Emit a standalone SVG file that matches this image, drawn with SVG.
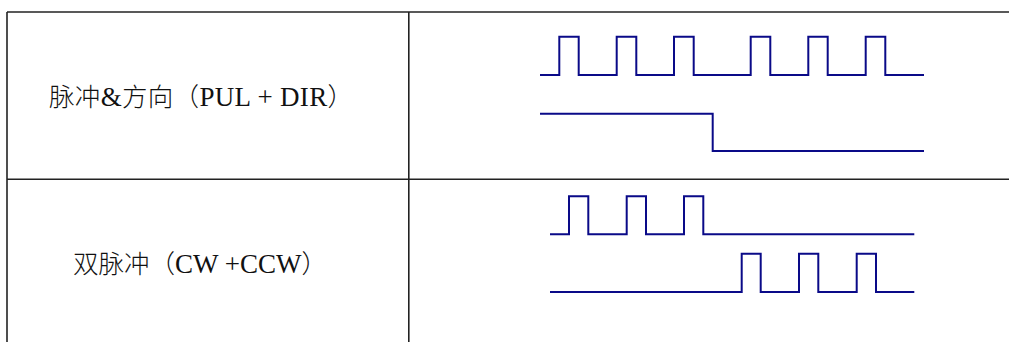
<svg xmlns="http://www.w3.org/2000/svg" width="1009" height="342" viewBox="0 0 1009 342">
<style>
.grid{stroke:#222;stroke-width:1.6;fill:none}
.wave{stroke:#0a0a88;stroke-width:2;fill:none;stroke-linejoin:miter}
.lbl{font-family:'Liberation Serif','Times New Roman','Noto Sans CJK SC',serif;font-size:27px;fill:#111}
.cjk{font-family:'Noto Sans CJK SC',sans-serif;font-size:25.5px;font-weight:300}
</style>
<rect x="0" y="0" width="1009" height="342" fill="#fff"/>
<g id="table">
<line class="grid" x1="7" y1="12" x2="1009" y2="12"/>
<line class="grid" x1="7" y1="179.3" x2="1009" y2="179.3"/>
<line class="grid" x1="7" y1="12" x2="7" y2="342"/>
<line class="grid" x1="408.8" y1="12" x2="408.8" y2="342"/>
</g>
<g id="label-pul-dir">
<text class="lbl" x="49" y="106" textLength="304" lengthAdjust="spacing"><tspan class="cjk">脉冲</tspan>&amp;<tspan class="cjk">方向（</tspan>PUL + DIR<tspan class="cjk">）</tspan></text>
</g>
<g id="label-cw-ccw">
<text class="lbl" x="73" y="273" textLength="254" lengthAdjust="spacing"><tspan class="cjk">双脉冲（</tspan>CW +CCW<tspan class="cjk">）</tspan></text>
</g>
<g id="wave-pul">
<path class="wave" d="M540,75 H559.3 V36.7 H578.7 V75 H616.7 V36.7 H636.3 V75 H674 V36.7 H693.7 V75 H750.7 V36.7 H770.3 V75 H808.3 V36.7 H827.7 V75 H865.7 V36.7 H885.3 V75 H924"/>
</g>
<g id="wave-dir">
<path class="wave" d="M540,113.7 H712.7 V151 H924"/>
</g>
<g id="wave-cw">
<path class="wave" d="M550,234.3 H569 V196.3 H588.3 V234.3 H626.7 V196.3 H646 V234.3 H684 V196.3 H703.3 V234.3 H914.3"/>
</g>
<g id="wave-ccw">
<path class="wave" d="M550,292 H741.7 V253.7 H760.7 V292 H799 V253.7 H818.3 V292 H856.7 V253.7 H876 V292 H914.3"/>
</g>
</svg>
